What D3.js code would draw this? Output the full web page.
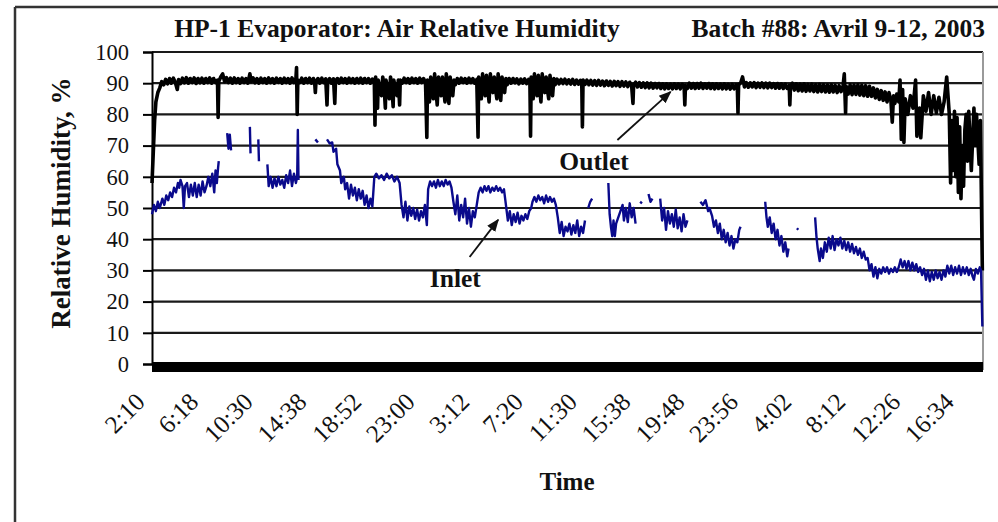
<!DOCTYPE html>
<html>
<head>
<meta charset="utf-8">
<script src="https://cdn.jsdelivr.net/npm/d3@7"></script>
<style>
  html, body { margin: 0; padding: 0; background: #fff; }
  svg { display: block; }
  text { font-family: "Liberation Serif", "Times New Roman", serif; fill: #111; }
</style>
</head>
<body>
<svg id="chart" width="998" height="522"></svg>
<script>
// ---------- DATA ----------
const titleLeft = "HP-1 Evaporator: Air Relative Humidity";
const titleRight = "Batch #88: Avril 9-12, 2003";
const yTicks = [0, 10, 20, 30, 40, 50, 60, 70, 80, 90, 100];
const timeLabels = ["2:10","6:18","10:30","14:38","18:52","23:00","3:12","7:20","11:30","15:38","19:48","23:56","4:02","8:12","12:26","16:34"];
const xEndHours = 64.1; // last sample, hours after 2:10

// Outlet RH [hours after start, %]
const outlet = [
[0,58],[0.1,68],[0.2,78],[0.3,84],[0.45,87],[0.6,88.5],[0.75,90.5],[0.9,89.5],[1.05,91.2],[1.2,89.8],[1.35,91.5],[1.5,90],[1.65,91.6],[1.8,90.2],[1.95,88],[2.05,91.2],[2.2,89.9],[2.35,91.6],[2.5,90.1],[2.65,91.8],[2.8,90],[2.95,91.5],[3.1,90.2],[3.25,91.7],[3.4,89.9],[3.55,91.5],[3.7,90.1],[3.85,91.6],[4.0,90],[4.15,91.5],[4.3,90.2],[4.45,91.7],[4.6,90],[4.75,91.5],[4.9,90.2],[5.05,91],[5.1,79],[5.15,90.5],
[5.3,92],[5.45,93],[5.6,90.5],[5.75,91.8],[5.9,90.2],[6.05,91.6],[6.2,90],[6.35,91.7],[6.5,90.2],[6.65,91.5],[6.8,90],[6.95,91.6],[7.1,90.2],[7.25,91.5],[7.4,90],[7.55,93],[7.65,90.5],[7.8,91.7],[7.95,90.1],[8.1,91.5],[8.25,90],[8.4,91.6],[8.55,90.2],[8.7,91.5],[8.85,90],[9.0,91.7],[9.15,90.2],[9.3,91.5],[9.45,90],[9.6,91.6],[9.75,90.3],[9.9,91.5],[10.05,90],[10.2,91.6],[10.35,90.2],[10.5,91.5],[10.65,90],[10.8,91.7],[10.95,90.2],[11.1,91.5],[11.15,95],[11.2,80],[11.25,91],
[11.4,90.2],[11.55,91.6],[11.7,90],[11.85,91.5],[12.0,90.2],[12.15,91.6],[12.3,90],[12.45,91.5],[12.55,90],[12.6,87],[12.65,90.5],[12.8,91.5],[12.95,90],[13.1,91.6],[13.25,90.2],[13.4,91.4],[13.5,83],[13.55,90.3],[13.7,91.5],[13.85,90],[14.0,91.4],[14.1,83.5],[14.15,90.5],[14.3,91.5],[14.45,90],[14.6,91.6],[14.75,90.2],[14.9,91.5],[15.05,90],[15.2,91.6],[15.35,90.2],[15.5,91.5],[15.65,90],[15.8,91.5],[15.95,90.1],[16.1,91.6],[16.25,90],[16.4,91.5],[16.55,90.2],[16.7,91.5],[16.85,90],[17.0,91.3],[17.15,90],
[17.2,76.5],[17.25,92],[17.4,82],[17.45,91],[17.6,88],[17.7,86],[17.8,92],[17.9,89],[18.0,82],[18.05,91],[18.2,88],[18.3,85],[18.4,92],[18.5,89],[18.6,82.5],[18.65,91],[18.8,88],[18.9,86],[19.0,91],[19.1,83],[19.15,91],
[19.3,90],[19.45,91.6],[19.6,90.2],[19.75,91.5],[19.9,90],[20.05,91.6],[20.2,90.2],[20.35,91.5],[20.5,90],[20.65,91.6],[20.8,90.2],[20.95,91.5],[21.1,90],[21.2,72.6],[21.25,91],
[21.35,88],[21.4,84],[21.5,92],[21.6,89],[21.7,85],[21.8,93],[21.9,88],[22.0,83],[22.1,92],[22.2,89],[22.3,86],[22.4,92],[22.5,88],[22.6,84],[22.7,93],[22.8,89],[22.9,83.5],[23.0,92],[23.1,89],[23.2,86],[23.3,91],[23.4,89.5],
[23.55,91.5],[23.7,90],[23.85,91.6],[24.0,90.2],[24.15,91.5],[24.3,90],[24.45,91.6],[24.6,90.2],[24.75,91.5],[24.9,90],[25.05,91.2],[25.15,72.7],[25.2,92],
[25.3,88],[25.4,85],[25.5,93],[25.6,89],[25.7,86],[25.8,92.5],[25.9,88],[26.0,84],[26.1,93],[26.2,89],[26.3,87],[26.4,92],[26.5,88],[26.6,85],[26.7,93],[26.8,89],[26.9,84.5],[27.0,92],[27.1,89],[27.2,87],[27.3,91.5],[27.4,89.5],
[27.55,91.5],[27.7,90],[27.85,91.5],[28.0,90.1],[28.15,91.4],[28.3,89.8],[28.45,91.3],[28.6,90],[28.75,91.4],[28.9,89.9],[29.05,91.2],[29.15,90],[29.2,73],[29.25,92],
[29.35,88],[29.4,85],[29.5,93],[29.6,89],[29.7,86],[29.8,92.5],[29.9,88],[30.0,84],[30.1,93],[30.2,89],[30.3,87],[30.4,92],[30.5,88],[30.6,85],[30.7,92.5],[30.8,89],[30.9,86],[31.0,91.5],[31.1,89.5],
[31.25,91.3],[31.4,89.8],[31.55,91.2],[31.7,89.9],[31.85,91.3],[32.0,89.8],[32.15,91.1],[32.3,89.7],[32.45,91.2],[32.6,89.6],[32.75,91],[32.9,89.7],[33.05,90.9],[33.15,89.8],[33.2,76],[33.25,91],
[33.4,89.6],[33.55,91],[33.7,89.5],[33.85,90.9],[34.0,89.4],[34.15,90.8],[34.3,89.3],[34.45,90.9],[34.6,89.4],[34.75,90.7],[34.9,89.2],[35.05,90.7],[35.2,89.3],[35.35,90.6],[35.5,89.1],[35.65,90.6],[35.8,89.2],[35.95,90.5],[36.1,89],[36.25,90.5],[36.4,89.1],[36.55,90.4],[36.7,88.9],[36.85,90.3],[37.0,89],[37.1,83.5],[37.15,89.5],
[37.3,90.3],[37.45,88.8],[37.6,90.2],[37.75,88.7],[37.9,90.1],[38.05,88.6],[38.2,90.1],[38.35,88.5],[38.5,90],[38.65,88.4],[38.8,89.9],[38.95,88.5],[39.1,89.9],[39.25,88.3],[39.4,89.8],[39.55,88.2],[39.7,89.8],[39.85,88.3],[40.0,89.7],[40.15,88.2],[40.3,89.8],[40.45,88.3],[40.6,89.7],[40.75,88.2],[40.9,89.6],[41.05,88.5],[41.1,83],[41.15,89.3],
[41.3,88.3],[41.45,90],[41.6,88.4],[41.75,89.9],[41.9,88.3],[42.05,89.9],[42.2,88.4],[42.35,90],[42.5,88.3],[42.65,89.8],[42.8,88.4],[42.95,89.9],[43.1,88.3],[43.25,89.8],[43.4,88.2],[43.55,89.8],[43.7,88.3],[43.85,89.7],[44.0,88.2],[44.15,89.8],[44.3,88.2],[44.45,89.6],[44.6,88.1],[44.75,89.6],[44.9,88.2],[45.05,89.5],[45.15,88.8],[45.2,80.5],[45.25,89.5],
[45.4,90],[45.55,92],[45.7,88.8],[45.85,90.2],[46.0,88.7],[46.15,90.1],[46.3,88.8],[46.45,90.2],[46.6,88.6],[46.75,90],[46.9,88.7],[47.05,90.1],[47.2,88.6],[47.35,90],[47.5,88.5],[47.65,90],[47.8,88.6],[47.95,89.9],[48.1,88.4],[48.25,89.9],[48.4,88.4],[48.55,89.8],[48.7,88.3],[48.85,89.7],[49.0,88.3],[49.15,89.3],[49.2,83],[49.25,89],
[49.4,90],[49.55,87.8],[49.7,89.8],[49.85,87.6],[50.0,89.7],[50.15,87.5],[50.3,89.8],[50.45,87.4],[50.6,89.6],[50.75,87.5],[50.9,89.7],[51.05,87.3],[51.2,89.5],[51.35,87.2],[51.5,89.6],[51.65,87.3],[51.8,89.5],[51.95,87.2],[52.1,89.4],[52.25,87.1],[52.4,89.5],[52.55,87.2],[52.7,89.3],[52.85,87],[53.0,89.2],[53.15,87.3],[53.3,89],[53.4,93],[53.5,80.5],[53.55,89],
[53.7,86.5],[53.85,89.5],[54.0,86.3],[54.15,89.4],[54.3,86.4],[54.45,89.5],[54.6,86.2],[54.75,89.3],[54.9,86],[55.05,89.2],[55.2,85.8],[55.35,89],[55.5,85.8],[55.65,88.5],[55.8,85.3],[55.95,88],[56.1,84.8],[56.25,87.6],[56.4,84.5],[56.55,87.2],[56.7,84],[56.85,87],[57.0,84.2],[57.1,77.5],[57.2,86],[57.3,83.5],[57.45,86.5],[57.6,84],
[57.7,91],[57.8,72],[57.9,88],[58.0,71],[58.1,85],[58.3,80],[58.5,86],[58.7,82],[58.9,91],[59.0,73],[59.2,82],[59.3,72.5],
[59.5,86],[59.7,81],[59.9,87],[60.1,80],[60.3,86],[60.5,80.5],[60.7,85.5],[60.9,80],[61.1,84],[61.3,92],
[61.5,80],[61.6,58],[61.7,78],[61.8,62],[61.9,81],[62.0,60],[62.1,79],[62.2,55],[62.3,76],[62.4,53],[62.5,70],[62.6,57],[62.7,75],
[62.8,80],[62.9,65],[63.0,81],[63.2,62],[63.4,82],[63.5,70],[63.6,80],[63.8,64],[63.9,78],[64.05,30]
];

// Inlet RH [hours after start, %]; null value = no data
const inlet = [
[0,48],[0.15,51],[0.3,49],[0.45,52],[0.6,50],[0.8,53],[0.95,51],[1.1,54],[1.25,52.5],[1.4,55],[1.55,53.5],[1.7,56.5],[1.85,55],[2.0,58],[2.1,56.5],[2.2,59],
[2.35,57],[2.45,50],[2.55,57],[2.7,58],[2.85,53.5],[3.0,57.5],[3.15,54],[3.3,58],[3.45,53.5],[3.6,57.5],[3.75,54],[3.9,58.5],[4.05,55],[4.2,57],
[4.35,60],[4.5,57],[4.65,61],[4.8,55],[4.9,62],[5.0,58],[5.1,63],[5.15,65],[5.3,null],
[5.8,74],[5.9,69],[6.0,73.5],[6.1,68.5],[6.3,null],
[7.55,76],[7.6,67.5],[7.8,null],
[8.2,72],[8.25,65],[8.5,null],
[8.9,64],[9.0,57],[9.15,60],[9.3,56.5],[9.45,59.5],[9.6,57],[9.75,60],[9.9,57.5],[10.05,59],[10.2,56.5],[10.35,60.5],[10.5,58],[10.65,62],[10.8,57],[10.95,61],[11.1,58],[11.2,60],[11.25,75],[11.3,59],[11.5,null],
[12.6,72],[12.8,71],[13.0,null],
[13.5,72],[13.7,70.7],[13.9,71],[14.0,68],[14.2,69],[14.3,64],[14.5,62],[14.6,58],[14.8,60],[14.9,56],
[15.05,58],[15.2,53],[15.35,57.5],[15.5,54],[15.65,56.5],[15.8,52.5],[15.95,56],[16.1,53],[16.25,55.5],[16.4,51],[16.55,54],[16.7,50],[16.85,53],[17.0,50.5],
[17.15,60],[17.3,61],[17.5,59.5],[17.7,60.5],[17.9,59],[18.1,61],[18.3,59.5],[18.5,60.5],[18.7,58.5],[18.9,60],[19.1,58],
[19.25,51],[19.4,47],[19.55,52],[19.7,46],[19.85,50.5],[20.0,47.5],[20.15,50],[20.3,46.5],[20.45,49.5],[20.6,46],[20.75,49],[20.9,47],[21.05,51],[21.2,44.5],
[21.3,56],[21.45,58.5],[21.6,57],[21.75,58.5],[21.9,56.5],[22.05,59],[22.2,57],[22.35,58.5],[22.5,57],[22.65,59],[22.8,57.5],[22.95,58.5],[23.1,56.5],
[23.25,52],[23.4,48],[23.55,54],[23.7,46],[23.85,51],[24.0,47],[24.15,53],[24.3,45],[24.45,50],[24.6,44],[24.75,49],[24.9,47],[25.05,51],
[25.2,55],[25.35,56.5],[25.5,55],[25.65,57],[25.8,55.5],[25.95,57],[26.1,55],[26.25,56.5],[26.4,55.5],[26.55,57],[26.7,55.5],[26.85,56.5],[27.0,55],[27.15,56],
[27.3,51],[27.45,46],[27.6,49],[27.75,44.5],[27.9,48],[28.05,45.5],[28.2,48.5],[28.35,45],[28.5,47.5],[28.65,46],[28.8,48],[28.95,46.5],[29.1,49],[29.25,50],
[29.35,52],[29.5,53.5],[29.65,52],[29.8,54],[29.95,52.5],[30.1,53.5],[30.25,51.5],[30.4,54],[30.55,52],[30.7,53.5],[30.85,52],[31.0,53],[31.15,51],
[31.3,47],[31.45,42],[31.6,45.5],[31.75,41],[31.9,44],[32.05,42.5],[32.2,45],[32.35,41.5],[32.5,44.5],[32.65,42],[32.8,46],[32.95,41],[33.1,44],[33.25,42],[33.4,46],[33.5,null],
[33.65,50],[33.8,52],[33.95,53],[34.2,null],
[35.2,58],[35.3,48],[35.4,44],[35.5,41],[35.6,46],[35.7,41],[35.8,45],
[36.3,51],[36.4,46],[36.55,50],[36.7,45.5],[36.85,51.5],[37.0,47],[37.15,50],[37.3,45],[37.45,null],
[37.65,52],[37.8,51.5],[38.0,null],
[38.3,54.5],[38.45,52],[38.6,53],[38.8,null],
[39.2,53],[39.35,46],[39.5,50],[39.65,43],[39.8,49],[39.95,45],[40.1,48],[40.25,44],[40.4,49.5],[40.55,43.5],[40.7,47],[40.85,42.5],[41.0,48],[41.15,44],[41.3,46],[41.6,null],
[42.3,52],[42.5,51],[42.7,52.5],[42.9,49],[43.0,50],
[43.2,47.5],[43.35,44],[43.5,46],[43.65,42],[43.8,45],[43.95,40],[44.1,43],[44.25,39],[44.4,42],[44.55,38],[44.7,41],[44.85,37],[45.0,40],[45.15,39],[45.3,43],[45.4,44],[45.6,null],
[47.3,52],[47.4,47],[47.5,44],[47.65,47],[47.8,42],[47.95,45],[48.1,40],[48.25,43],[48.4,38],[48.55,41],[48.7,36],[48.85,39],[49.0,34.5],[49.1,37],[49.3,null],
[49.75,43.5],[49.85,43],[50.0,null],
[51.15,47],[51.25,41],[51.35,37],[51.5,33],[51.6,37],[51.75,34],[51.9,39],[52.05,36],[52.2,40.5],[52.35,37],[52.5,41],[52.65,36.5],[52.8,40],
[52.95,38],[53.1,40.5],[53.25,37],[53.4,39.5],[53.55,36.5],[53.7,39],[53.85,36],[54.0,38.5],[54.15,35.5],[54.3,37.5],[54.45,35],[54.6,37],[54.75,34],[54.9,36],[55.05,33.5],
[55.2,34],[55.35,30],[55.5,32],[55.65,28],[55.8,31],[55.95,27.5],[56.1,30.5],
[56.25,29],[56.4,31],[56.55,29.5],[56.7,31],[56.85,29],[57.0,30.5],[57.15,29.5],[57.3,31],[57.45,29.5],[57.6,31],
[57.75,33.5],[57.9,31],[58.05,33],[58.2,30.5],[58.35,33],[58.5,30],[58.65,32.5],[58.8,30],[58.95,32],[59.1,29.5],[59.25,31],
[59.4,28.5],[59.55,30.5],[59.7,27],[59.85,30],[60.0,26.5],[60.15,29.5],[60.3,27],[60.45,30],[60.6,27.5],[60.75,29.5],[60.9,27],[61.05,30],[61.2,28],
[61.35,31.5],[61.5,29],[61.65,31.5],[61.8,28.5],[61.95,31],[62.1,29],[62.25,31.5],[62.4,28.5],[62.55,31],[62.7,29],[62.85,31],[63.0,28.5],[63.15,30.5],[63.3,28],[63.4,27],[63.55,30.5],[63.7,29],[63.85,31],[63.95,30],[64.05,12]
];

// Annotations [hours, %]
const outletLabel = {text: "Outlet", at: [34.1, 62.3], from: [35.9, 71.8], to: [40.0, 87.2]};
const inletLabel  = {text: "Inlet",  at: [23.4, 24.7], from: [24.5, 34.3], to: [26.7, 46.2]};

// ---------- CHART ----------
(function () {
const svg = d3.select("#chart");
const mLeft = 152, mRight = 983, mTop = 52, mBottom = 364;

const x = d3.scaleLinear().domain([0, xEndHours]).range([mLeft, mRight]);
const y = d3.scaleLinear().domain([0, 100]).range([mBottom, mTop]);

// tick positions from the label clock times (day roll-over)
const toMin = s => { const [h, m] = s.split(":").map(Number); return h * 60 + m; };
let dayOff = 0, prev = -1;
const tickHours = timeLabels.map(s => {
  const m = toMin(s);
  if (m < prev) dayOff += 1440;
  prev = m;
  return (m + dayOff - toMin(timeLabels[0])) / 60;
});

// outer frame
svg.append("line").attr("x1", 15).attr("x2", 998).attr("y1", 7).attr("y2", 7)
  .attr("stroke", "#333").attr("stroke-width", 2.5);
svg.append("line").attr("x1", 15).attr("x2", 15).attr("y1", 7).attr("y2", 522)
  .attr("stroke", "#333").attr("stroke-width", 2.5);

// titles
svg.append("text").attr("x", 397).attr("y", 37).attr("text-anchor", "middle")
  .attr("font-weight", "bold").attr("font-size", 25.5).text(titleLeft);
svg.append("text").attr("x", 985).attr("y", 37).attr("text-anchor", "end")
  .attr("font-weight", "bold").attr("font-size", 25.5).text(titleRight);

// gridlines
svg.append("g").selectAll("line").data(yTicks.filter(d => d > 0)).join("line")
  .attr("x1", mLeft).attr("x2", mRight)
  .attr("y1", d => y(d)).attr("y2", d => y(d))
  .attr("stroke", "#1a1a1a").attr("stroke-width", 2.2);

// right border of plot
svg.append("line").attr("x1", mRight).attr("x2", mRight).attr("y1", mTop).attr("y2", mBottom + 6)
  .attr("stroke", "#9a9a9a").attr("stroke-width", 2);

// zero band
svg.append("line").attr("x1", mLeft).attr("x2", mRight)
  .attr("y1", y(0) + 3).attr("y2", y(0) + 3)
  .attr("stroke", "#000").attr("stroke-width", 10);

// y axis
const yAxis = d3.axisLeft(y).tickValues(yTicks).tickSize(9).tickPadding(14);
const gy = svg.append("g").attr("transform", `translate(${mLeft},0)`).call(yAxis);
gy.select(".domain").attr("stroke", "#000").attr("stroke-width", 2);
gy.selectAll(".tick line").attr("stroke", "#000").attr("stroke-width", 2);
gy.selectAll(".tick text").attr("font-size", 22.5).attr("fill", "#222")
  .attr("font-family", '"Liberation Serif", serif');

// x labels
svg.append("g").selectAll("text").data(timeLabels).join("text")
  .attr("transform", (d, i) => `translate(${x(tickHours[i]) - 18},${mBottom + 27}) rotate(-45)`)
  .attr("text-anchor", "end").attr("dy", "0.7em")
  .attr("font-size", 25).attr("fill", "#222").text(d => d);

// axis titles
svg.append("text").attr("transform", `translate(70,203) rotate(-90)`)
  .attr("text-anchor", "middle").attr("font-weight", "bold").attr("font-size", 27)
  .text("Relative Humidity, %");
svg.append("text").attr("x", 567).attr("y", 490).attr("text-anchor", "middle")
  .attr("font-weight", "bold").attr("font-size", 25).text("Time");

// series
const line = d3.line().defined(d => d[1] !== null).x(d => x(d[0])).y(d => y(d[1]));
svg.append("path").datum(outlet).attr("d", line).attr("fill", "none")
  .attr("stroke", "#000").attr("stroke-width", 3.6).attr("stroke-linejoin", "round");
svg.append("path").datum(inlet).attr("d", line).attr("fill", "none")
  .attr("stroke", "#0a0a8c").attr("stroke-width", 2.4).attr("stroke-linejoin", "round");

// annotations
svg.append("defs").append("marker").attr("id", "arrow").attr("viewBox", "0 0 10 10")
  .attr("refX", 9).attr("refY", 5).attr("markerWidth", 7).attr("markerHeight", 7)
  .attr("orient", "auto").append("path").attr("d", "M0,1 L10,5 L0,9 Z").attr("fill", "#111");
[outletLabel, inletLabel].forEach(a => {
  svg.append("line").attr("x1", x(a.from[0])).attr("y1", y(a.from[1]))
    .attr("x2", x(a.to[0])).attr("y2", y(a.to[1]))
    .attr("stroke", "#111").attr("stroke-width", 1.8).attr("marker-end", "url(#arrow)");
  svg.append("text").attr("x", x(a.at[0])).attr("y", y(a.at[1]))
    .attr("text-anchor", "middle").attr("font-weight", "bold").attr("font-size", 25.5)
    .text(a.text);
});
})();
</script>
</body>
</html>
